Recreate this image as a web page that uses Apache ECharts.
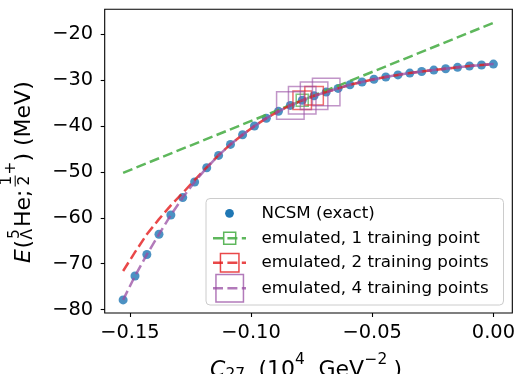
<!DOCTYPE html>
<html><head><meta charset="utf-8">
<script src="https://cdn.jsdelivr.net/npm/echarts@6/dist/echarts.min.js"></script>
<style>html,body{margin:0;padding:0;background:#fff}#c{width:518px;height:374px}</style>
</head><body><div id="c"></div>
<script>
// ---- data ----
const cValues = [-0.1528,-0.1479,-0.1430,-0.1380,-0.1331,-0.1282,-0.1233,-0.1183,-0.1134,-0.1085,-0.1035,-0.0986,-0.0937,-0.0887,-0.0838,-0.0789,-0.0740,-0.0690,-0.0641,-0.0592,-0.0542,-0.0493,-0.0444,-0.0394,-0.0345,-0.0296,-0.0246,-0.0197,-0.0148,-0.0099,-0.0049,0.0000];
const ncsmE = [-77.9,-72.7,-68.0,-63.6,-59.4,-55.6,-52.2,-49.1,-46.4,-44.0,-41.9,-40.0,-38.3,-36.8,-35.5,-34.4,-33.4,-32.6,-31.8,-31.0,-30.4,-29.8,-29.3,-28.85,-28.45,-28.1,-27.8,-27.5,-27.2,-26.9,-26.7,-26.5];
const emu1X = [-0.1528, 0.0000];
const emu1E = [-50.2, -17.5];
const emu2E = [-71.6,-67.5,-63.6,-60.3,-57.3,-54.6,-51.8,-49.0,-46.35,-44.0,-41.9,-40.0,-38.3,-36.8,-35.5,-34.4,-33.4,-32.6,-31.8,-31.0,-30.4,-29.8,-29.3,-28.85,-28.45,-28.1,-27.8,-27.5,-27.2,-26.9,-26.7,-26.5];
const emu4E = [-77.9,-72.7,-68.0,-63.6,-59.4,-55.6,-52.2,-49.1,-46.4,-44.0,-41.9,-40.0,-38.3,-36.8,-35.5,-34.4,-33.4,-32.6,-31.8,-31.0,-30.4,-29.8,-29.3,-28.85,-28.45,-28.1,-27.8,-27.5,-27.2,-26.9,-26.7,-26.5];
const train1X = [-0.0789], train1E = [-34.4];
const train2X = [-0.0789,-0.0740], train2E = [-34.4,-33.4];
const train4X = [-0.0838,-0.0789,-0.0740,-0.0690], train4E = [-35.5,-34.4,-33.4,-32.6];
const xTicks = [-0.15,-0.10,-0.05,0.00];
const yTicks = [-80,-70,-60,-50,-40,-30,-20];
const legendNames = ['NCSM (exact)','emulated, 1 training point','emulated, 2 training points','emulated, 4 training points'];

const FONT = 'DejaVu Sans';
const MID = 0.346; // baseline offset from text middle (em)
const C_BLUE = '#1f77b4', C_GREEN = 'rgba(77,175,74,0.9)', C_RED = 'rgba(228,26,28,0.8)', C_PURPLE = 'rgba(152,78,163,0.75)';
const zip = (a,b) => a.map((v,i)=>[v,b[i]]);
const minus = s => s.replace('-', '\u2212');
const txt = (p) => ({type:'text', x:p.x, y:p.y - MID*p.s,
  style:{text:p.t, fontFamily:FONT, fontSize:p.s, fontStyle:p.i?'italic':'normal', fill:'#000', align:'left', verticalAlign:'middle'}});

const chart = echarts.init(document.getElementById('c'), null, {renderer:'canvas'});

// y-axis label pieces (rotated group; local x along text, local y = baseline offset, negative = raised)
const yl = 22, ys = 15.4;
const yLabelParts = [
  {t:'E', x:0, y:0, s:yl, i:true},
  {t:'(', x:14.5, y:0, s:yl},
  {t:'5', x:24, y:-11.5, s:ys},
  {t:'\u039b', x:23.5, y:1.5, s:ys},
  {t:'He', x:36, y:0, s:yl},
  {t:';', x:66, y:0, s:yl},
  {t:'1', x:77.5, y:-19.5, s:ys},
  {t:'2', x:77.5, y:-1.5, s:ys},
  {t:'+', x:88.5, y:-15, s:ys},
  {t:')', x:101.5, y:0, s:yl},
  {t:'(MeV)', x:117, y:0, s:yl}
];
const yLabelGroup = {type:'group', x:31.7, y:263, rotation:Math.PI/2, silent:true,
  children: yLabelParts.map(txt)
    .concat([{type:'line', shape:{x1:76.5, y1:-16.5, x2:87.5, y2:-16.5}, style:{stroke:'#000', lineWidth:1}}])
};

// x-axis label pieces (baseline coords)
const xLabelParts = [
  {t:'C', x:210, y:377.4, s:yl, i:true},
  {t:'27', x:225.5, y:380.5, s:ys},
  {t:'(10', x:258.5, y:377.4, s:yl},
  {t:'4', x:295, y:365, s:ys},
  {t:'GeV', x:318.5, y:377.4, s:yl},
  {t:'\u22122', x:364.5, y:365, s:ys},
  {t:')', x:393.5, y:377.4, s:yl}
];

// legend
const legendRows = [213.3, 238.3, 262.8, 288.2];
const legendCols = [C_BLUE, C_GREEN, C_RED, C_PURPLE];
const legendSq = [0, 12, 18.5, 27.5];
const legendEls = [{type:'rect', shape:{x:206, y:198.5, width:297.5, height:106.5, r:4}, style:{fill:'rgba(255,255,255,0.8)', stroke:'#cccccc', lineWidth:1}}];
legendRows.forEach((yy, k) => {
  if (k === 0) {
    legendEls.push({type:'circle', shape:{cx:229.5, cy:yy, r:4.4}, style:{fill:C_BLUE}});
  } else {
    legendEls.push({type:'line', shape:{x1:213, y1:yy, x2:246, y2:yy}, style:{stroke:legendCols[k], lineWidth:2.5, lineDash:[10,4.4]}});
    const s = legendSq[k];
    legendEls.push({type:'rect', shape:{x:229.7 - s/2, y:yy - s/2, width:s, height:s}, style:{fill:'none', stroke:legendCols[k], lineWidth:1.5}});
  }
  legendEls.push({type:'text', x:261.5, y:yy, style:{text:legendNames[k], fontFamily:FONT, fontSize:16.7, fill:'#000', align:'left', verticalAlign:'middle'}});
});

const option = {
  animation:false,
  backgroundColor:'#fff',
  grid:{left:104.7, right:5, top:9.3, bottom:61, show:true, borderColor:'#000', borderWidth:1.1, backgroundColor:'transparent'},
  xAxis:{type:'value', min:-0.1604, max:0.0078,
    axisLine:{show:false, onZero:false}, splitLine:{show:false},
    axisTick:{show:true, inside:false, length:4, lineStyle:{color:'#000', width:1.1}, customValues:xTicks},
    axisLabel:{show:true, margin:10, fontFamily:FONT, fontSize:19.4, color:'#000', customValues:xTicks,
      formatter:v => minus(Number(v).toFixed(2))}},
  yAxis:{type:'value', min:-80.76, max:-14.55,
    axisLine:{show:false, onZero:false}, splitLine:{show:false},
    axisTick:{show:true, inside:false, length:4, lineStyle:{color:'#000', width:1.1}, customValues:yTicks},
    axisLabel:{show:true, margin:11.5, fontFamily:FONT, fontSize:19.4, color:'#000', customValues:yTicks,
      formatter:v => minus(String(Math.round(v)))}},
  series:[
    {type:'scatter', name:legendNames[0], data:zip(cValues, ncsmE), symbol:'circle', symbolSize:9, itemStyle:{color:C_BLUE}, z:2, silent:true},
    {type:'line', name:legendNames[1], data:zip(emu1X, emu1E), showSymbol:false, symbol:'none', lineStyle:{color:C_GREEN, width:2.5, type:[10,4.4]}, z:3, silent:true},
    {type:'line', name:legendNames[2], data:zip(cValues, emu2E), showSymbol:false, symbol:'none', lineStyle:{color:C_RED, width:2.5, type:[10,4.4]}, z:3, silent:true},
    {type:'line', name:legendNames[3], data:zip(cValues, emu4E), showSymbol:false, symbol:'none', lineStyle:{color:C_PURPLE, width:2.5, type:[10,4.4]}, z:3, silent:true},
    {type:'scatter', data:zip(train1X, train1E), symbol:'rect', symbolSize:12, itemStyle:{color:'rgba(0,0,0,0)', borderColor:C_GREEN, borderWidth:1.5}, z:4, silent:true},
    {type:'scatter', data:zip(train2X, train2E), symbol:'rect', symbolSize:18.5, itemStyle:{color:'rgba(0,0,0,0)', borderColor:C_RED, borderWidth:1.5}, z:4, silent:true},
    {type:'scatter', data:zip(train4X, train4E), symbol:'rect', symbolSize:27.5, itemStyle:{color:'rgba(0,0,0,0)', borderColor:C_PURPLE, borderWidth:1.5}, z:4, silent:true}
  ],
  graphic:[
    yLabelGroup,
    {type:'group', silent:true, children: xLabelParts.map(txt)},
    {type:'group', silent:true, z:100, children: legendEls}
  ]
};
chart.setOption(option);
</script></body></html>
